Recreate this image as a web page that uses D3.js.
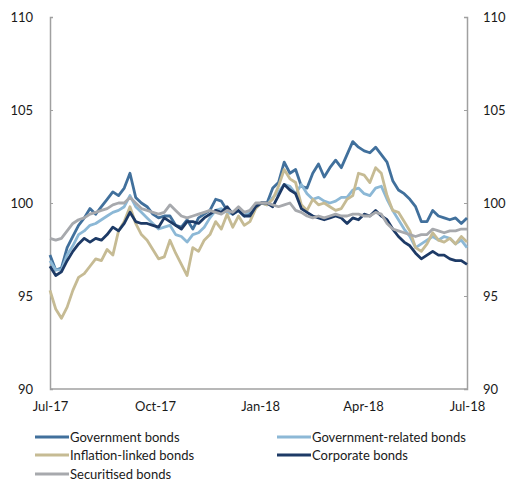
<!DOCTYPE html>
<html><head><meta charset="utf-8">
<script src="https://cdn.jsdelivr.net/npm/d3@7"></script>
<style>body{margin:0;background:#fff}svg{display:block}text{font-family:Lato,"Open Sans",sans-serif}</style>
</head><body><svg id="c" width="511" height="483"></svg>
<script>
const startDate = new Date(2017, 6, 1);
const stepDays = 5;
const yTicks = [90, 95, 100, 105, 110];
const xTickLabels = ["Jul-17", "Oct-17", "Jan-18", "Apr-18", "Jul-18"];
const xTickDates = [new Date(2017,6,1), new Date(2017,9,1), new Date(2018,0,1), new Date(2018,3,1), new Date(2018,6,1)];
const seriesNames = ["Government bonds", "Government-related bonds", "Inflation-linked bonds", "Corporate bonds", "Securitised bonds"];
const seriesColors = ["#41709c", "#8cb8d6", "#c6bb94", "#1d3a66", "#a7a9ad"];

const government = [97.2,96.4,96.5,97.6,98.2,98.8,99.2,99.7,99.4,99.8,100.2,100.6,100.4,100.8,101.6,100.3,100.0,99.8,99.4,99.2,99.3,99.3,98.8,98.7,99.1,98.6,99.2,99.4,99.6,100.2,100.1,99.6,99.4,99.6,99.3,99.5,99.9,100.0,100.0,100.8,101.1,102.2,101.6,101.8,100.9,100.8,101.6,102.1,101.4,101.9,102.3,101.9,102.6,103.3,103.0,102.8,102.7,103.0,102.6,102.2,101.2,100.7,100.5,100.2,99.8,99.0,99.0,99.6,99.3,99.2,99.1,99.2,98.9,99.2];
const governmentRelated = [96.9,96.4,96.4,97.2,97.7,98.3,98.5,98.8,98.9,99.1,99.3,99.5,99.6,99.8,100.4,99.8,99.5,99.2,98.9,98.6,98.7,98.8,98.3,98.2,97.9,98.3,98.4,98.7,99.2,99.6,99.7,99.5,99.4,99.6,99.3,99.6,99.9,100.0,99.9,100.3,100.6,101.0,100.9,100.5,101.0,100.5,100.2,100.3,100.1,100.0,100.1,100.3,100.3,100.7,100.8,100.5,100.4,100.8,100.9,100.2,99.6,99.1,98.6,98.2,97.6,97.8,98.0,98.2,98.0,98.2,98.1,97.8,98.0,97.6];
const inflationLinked = [95.3,94.3,93.8,94.4,95.3,96.0,96.2,96.6,97.0,96.9,97.5,97.2,98.5,99.0,99.8,98.9,98.3,98.0,97.5,97.0,97.1,98.0,97.3,96.7,96.1,97.6,97.4,98.0,98.3,99.0,98.6,99.4,98.7,99.3,98.8,99.0,99.7,100.0,99.9,100.2,100.9,101.8,101.3,101.1,99.9,99.6,100.2,99.9,100.0,99.8,99.6,99.7,100.2,100.4,101.6,101.5,101.1,101.9,101.6,100.4,99.6,99.5,99.0,98.5,97.6,97.4,97.8,98.4,98.0,97.9,98.1,97.8,98.2,97.9];
const corporate = [96.6,96.1,96.3,96.9,97.4,97.8,98.1,97.9,98.1,98.0,98.3,98.7,98.5,98.9,99.5,99.0,98.9,98.9,98.8,98.7,99.2,99.0,98.8,98.6,99.0,99.0,98.9,99.2,99.4,99.6,99.5,99.8,99.4,99.6,99.3,99.3,99.8,100.0,100.0,99.8,100.4,101.0,100.7,100.5,99.7,99.5,99.3,99.2,99.1,99.2,99.3,99.2,98.9,99.2,99.1,99.4,99.3,99.6,99.3,99.1,98.6,98.2,97.9,97.7,97.3,97.0,97.2,97.4,97.2,97.2,97.0,96.9,96.9,96.7];
const securitised = [98.1,98.0,98.1,98.5,98.9,99.1,99.2,99.4,99.5,99.6,99.7,99.9,100.0,100.0,100.3,100.0,99.7,99.6,99.5,99.4,99.5,99.9,99.6,99.3,99.2,99.3,99.4,99.5,99.6,99.5,99.4,99.6,99.5,99.8,99.5,99.6,100.0,100.0,100.0,99.9,99.8,99.9,100.0,99.6,99.5,99.3,99.2,99.3,99.2,99.3,99.4,99.3,99.3,99.4,99.4,99.3,99.3,99.5,99.4,98.9,98.6,98.5,98.4,98.3,98.2,98.3,98.3,98.6,98.5,98.4,98.5,98.5,98.6,98.6];

const seriesValues = [government, governmentRelated, inflationLinked, corporate, securitised];

const svg = d3.select("#c");
const L = 50, R = 467, T = 17, B = 389;
const x = d3.scaleTime().domain([new Date(2017,6,1), new Date(2018,6,1)]).range([L, R]);
const y = d3.scaleLinear().domain([90, 110]).range([B, T]);
const axisColor = "#a0a0a0";

// left axis
const la = svg.append("g").attr("transform", `translate(${L},0)`)
  .call(d3.axisLeft(y).tickValues(yTicks).tickSize(-3).tickPadding(17));
// right axis
const ra = svg.append("g").attr("transform", `translate(${R},0)`)
  .call(d3.axisRight(y).tickValues(yTicks).tickSize(-3).tickPadding(16));
// bottom axis
const ba = svg.append("g").attr("transform", `translate(0,${B})`)
  .call(d3.axisBottom(x).tickValues(xTickDates).tickFormat((d,i)=>xTickLabels[i]).tickSize(0).tickPadding(13));
[la, ra, ba].forEach(g => {
  g.select(".domain").attr("stroke", axisColor).attr("stroke-width", 1.5);
  g.selectAll(".tick line").attr("stroke", axisColor).attr("stroke-width", 1);
  g.selectAll("text").attr("fill", "#1a1a1a").attr("font-size", 13).style("font-family", "Lato, 'Open Sans', sans-serif");
});
ba.select(".domain").attr("d", `M${L},0H${R}`);

const line = d3.line().x((d,i)=>x(d3.timeDay.offset(startDate, i*stepDays))).y(d=>y(d));
seriesValues.forEach((vals, k) => {
  svg.append("path").datum(vals).attr("d", line)
    .attr("fill", "none").attr("stroke", seriesColors[k]).attr("stroke-width", 2.8)
    .attr("stroke-linejoin", "round");
});

// legend
const legPos = [[35,437],[277,437],[35,455],[277,455],[35,474]];
seriesNames.forEach((n,k) => {
  const [lx, ly] = legPos[k];
  svg.append("line").attr("x1", lx).attr("x2", lx+34).attr("y1", ly).attr("y2", ly)
    .attr("stroke", seriesColors[k]).attr("stroke-width", 3);
  svg.append("text").attr("x", lx+35).attr("y", ly).attr("dy", "0.35em")
    .attr("font-size", 13).attr("fill", "#1a1a1a").text(n);
});
</script></body></html>
